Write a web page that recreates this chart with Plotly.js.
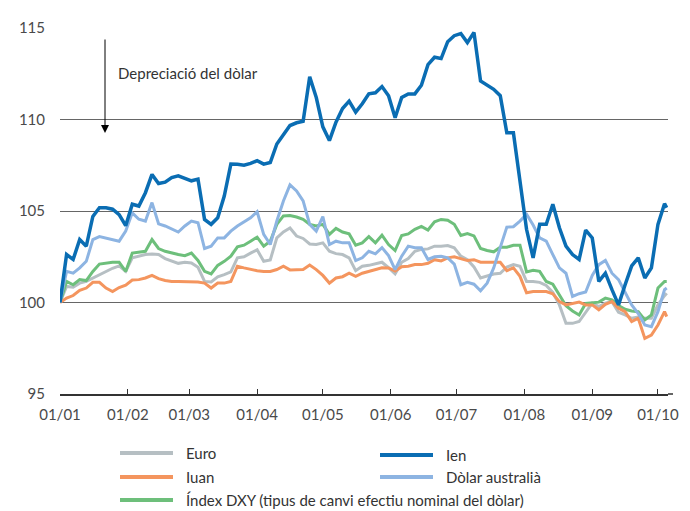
<!DOCTYPE html>
<html>
<head>
<meta charset="utf-8">
<script src="https://cdn.plot.ly/plotly-3.0.1.min.js"></script>
<style>html,body{margin:0;padding:0;background:#fff;}#chart{width:690px;height:511px;}</style>
</head>
<body>
<div id="chart"></div>
<script>
const dates = ['2025-01-01','2025-01-04','2025-01-07','2025-01-10','2025-01-13','2025-01-16','2025-01-19','2025-01-22','2025-01-25','2025-01-28','2025-01-31','2025-02-03','2025-02-06','2025-02-09','2025-02-12','2025-02-15','2025-02-18','2025-02-21','2025-02-24','2025-02-27','2025-03-02','2025-03-05','2025-03-08','2025-03-11','2025-03-14','2025-03-17','2025-03-20','2025-03-23','2025-03-26','2025-03-29','2025-04-01','2025-04-04','2025-04-07','2025-04-10','2025-04-13','2025-04-16','2025-04-19','2025-04-22','2025-04-25','2025-04-28','2025-05-01','2025-05-04','2025-05-07','2025-05-10','2025-05-13','2025-05-16','2025-05-19','2025-05-22','2025-05-25','2025-05-28','2025-05-31','2025-06-03','2025-06-06','2025-06-09','2025-06-12','2025-06-15','2025-06-18','2025-06-21','2025-06-24','2025-06-27','2025-06-30','2025-07-03','2025-07-06','2025-07-09','2025-07-12','2025-07-15','2025-07-18','2025-07-21','2025-07-24','2025-07-27','2025-07-30','2025-08-02','2025-08-05','2025-08-08','2025-08-11','2025-08-14','2025-08-17','2025-08-20','2025-08-23','2025-08-26','2025-08-29','2025-09-01','2025-09-04','2025-09-07','2025-09-10','2025-09-13','2025-09-16','2025-09-19','2025-09-22','2025-09-25','2025-09-28','2025-10-01','2025-10-04','2025-10-05'];

const ien = [100.0,102.62,102.35,103.44,103.08,104.7,105.18,105.18,105.1,104.8,104.2,105.37,105.27,106.0,107.0,106.5,
106.58,106.83,106.92,106.76,106.65,106.74,104.54,104.27,104.63,105.82,107.56,107.55,107.5,107.6,107.75,
107.56,107.65,108.66,109.18,109.67,109.82,109.9,112.33,111.2,109.6,108.85,109.85,110.6,111.0,110.4,110.86,
111.4,111.46,111.8,111.3,110.1,111.2,111.4,111.4,111.87,113.0,113.4,113.33,114.25,114.58,114.7,
114.2,114.76,112.1,111.9,111.65,111.3,109.27,109.27,106.65,104.0,102.44,104.27,104.27,105.37,104.08,103.08,
102.62,102.35,103.95,103.53,101.15,101.6,100.7,99.87,100.97,102.0,102.44,101.34,101.89,104.27,105.4,105.18];

const dolarAustralia = [100.0,101.7,101.6,101.89,102.25,103.44,103.6,103.53,103.44,103.35,103.9,104.9,104.55,104.45,105.46,104.3,
104.18,104.0,103.85,104.18,104.45,104.36,102.95,103.08,103.53,103.53,103.9,104.18,104.4,104.63,104.96,
103.72,103.17,104.45,105.55,106.43,106.1,105.55,104.27,103.9,104.7,103.17,103.35,103.26,103.26,102.29,102.44,
102.8,102.66,103.0,102.56,101.8,102.53,103.08,102.99,102.99,102.35,102.5,102.53,102.44,102.1,100.97,
101.1,101.0,100.64,101.06,101.89,102.99,104.12,104.14,104.45,104.82,104.23,103.53,103.35,102.62,101.89,101.6,
100.33,100.48,100.57,101.48,102.07,102.3,101.6,101.25,100.6,99.87,99.4,98.77,98.68,99.5,100.7,100.79];

const indexDXY = [100.0,101.15,100.97,101.25,101.2,101.7,102.1,102.16,102.2,102.2,101.7,102.7,102.73,102.8,103.44,102.95,
102.8,102.7,102.62,102.56,102.7,102.3,101.7,101.56,102.03,102.25,102.53,103.04,103.13,103.35,103.57,
103.08,103.35,104.27,104.73,104.75,104.67,104.54,104.27,104.18,104.27,103.72,104.05,103.85,103.75,103.13,103.26,
103.6,103.26,103.68,103.17,102.84,103.66,103.75,104.0,104.16,103.96,104.41,104.54,104.5,104.27,103.66,
103.77,103.64,102.95,102.84,102.77,103.02,103.02,103.13,103.13,101.67,101.76,101.7,101.15,101.0,100.42,99.82,
99.54,99.32,99.95,100.0,100.02,100.24,100.15,99.84,99.63,99.54,99.5,99.05,99.32,100.79,101.15,101.15];

const euro = [100.0,100.88,100.84,101.06,101.15,101.34,101.52,101.7,101.87,102.0,101.7,102.44,102.55,102.62,102.65,102.62,
102.4,102.25,102.14,102.2,102.16,101.92,101.15,101.12,101.4,101.52,101.67,102.44,102.5,102.7,102.88,
102.25,102.33,103.53,103.86,104.07,103.63,103.5,103.2,103.17,103.26,102.8,102.67,102.62,102.44,101.74,101.98,
102.03,102.1,102.2,101.9,101.56,102.2,102.4,102.8,102.9,102.93,103.08,103.08,103.11,102.99,102.53,
102.34,101.94,101.34,101.43,101.56,101.6,101.94,102.07,101.98,101.15,101.15,101.1,100.93,100.55,99.87,98.86,
98.86,98.96,99.45,99.96,99.78,99.96,100.05,99.47,99.32,99.14,99.2,99.14,99.14,99.87,100.37,100.51];

const iuan = [100.0,100.24,100.38,100.66,100.79,101.1,101.1,100.79,100.6,100.82,100.95,101.23,101.25,101.34,101.48,101.3,
101.2,101.15,101.15,101.15,101.15,101.12,101.06,100.79,101.06,101.06,101.15,101.98,101.89,101.8,101.74,
101.7,101.7,101.8,101.98,101.78,101.8,101.8,102.05,101.8,101.48,101.06,101.34,101.41,101.6,101.43,101.6,
101.7,101.8,101.9,101.89,101.72,101.96,101.98,102.07,102.07,102.14,102.34,102.27,102.44,102.5,102.4,
102.29,102.34,102.2,102.2,102.2,102.2,101.74,101.89,101.43,100.53,100.6,100.6,100.6,100.48,100.05,99.87,
99.96,100.02,99.87,99.87,99.6,99.9,100.05,99.69,99.5,98.96,99.14,98.04,98.22,98.77,99.5,99.23];

const tickDates = ['2025-01-01','2025-02-01','2025-03-01','2025-04-01','2025-05-01','2025-06-01','2025-07-01','2025-08-01','2025-09-01','2025-10-01'];
const tickLabels = ['01/01','01/02','01/03','01/04','01/05','01/06','01/07','01/08','01/09','01/10'];
const yTicks = [95,100,105,110,115];

const seriesNames = ['Euro','Ien','Iuan','Dòlar australià','Índex DXY (tipus de canvi efectiu nominal del dòlar)'];
const colors = {euro:'#b6bfc3', ien:'#0a6db3', iuan:'#f4955e', aud:'#8db4e2', dxy:'#6dbf7b'};

const mk = (y, name, color, w) => ({x: dates, y: y, name: name, type: 'scatter', mode: 'lines',
  line: {color: color, width: w}, showlegend: false, hoverinfo: 'skip'});

const traces = [
  mk(euro, seriesNames[0], colors.euro, 3),
  mk(indexDXY, seriesNames[4], colors.dxy, 3),
  mk(iuan, seriesNames[2], colors.iuan, 3),
  mk(dolarAustralia, seriesNames[3], colors.aud, 3),
  mk(ien, seriesNames[1], colors.ien, 3.5)
];

const FONT = 'Lato, "Open Sans", sans-serif';
// Manual legend (two columns)
const L = 60, W = 608, T = 28, H = 366;
const px = v => (v - L) / W;
const py = v => (T + H - v) / H;
const legendItems = [
  {name: seriesNames[0], color: colors.euro, x0: 120, y: 453},
  {name: seriesNames[1], color: colors.ien, x0: 380, y: 455},
  {name: seriesNames[2], color: colors.iuan, x0: 120, y: 477},
  {name: seriesNames[3], color: colors.aud, x0: 380, y: 477},
  {name: seriesNames[4], color: colors.dxy, x0: 120, y: 500}
];
const shapes = legendItems.map(it => ({type: 'line', xref: 'paper', yref: 'paper',
  x0: px(it.x0), x1: px(it.x0 + 53), y0: py(it.y), y1: py(it.y),
  line: {color: it.color, width: 4}}));
// x-axis baseline extends a little past the plot area
shapes.push({type: 'line', xref: 'paper', yref: 'paper', x0: 1, x1: px(673), y0: 0, y1: 0,
  line: {color: '#333', width: 1.5}});
const annotations = legendItems.map(it => ({xref: 'paper', yref: 'paper', x: px(it.x0 + 64), y: py(it.y),
  xanchor: 'left', yanchor: 'middle', text: it.name, showarrow: false,
  font: {family: FONT, size: 15, color: '#333'}}));
annotations.push({xref: 'paper', yref: 'paper', x: px(116), y: py(73), xanchor: 'left', yanchor: 'middle',
  text: 'Depreciació del dòlar', showarrow: false, font: {family: FONT, size: 15, color: '#333'}});
annotations.push({xref: 'paper', yref: 'paper', x: px(105), y: py(133), text: '', showarrow: true,
  ax: 0, ay: -95, arrowhead: 2, arrowsize: 1.6, arrowwidth: 1, arrowcolor: '#000', standoff: 0, startstandoff: 0});

const layout = {
  width: 690, height: 511,
  margin: {l: L, r: 690 - L - W, t: T, b: 511 - T - H},
  paper_bgcolor: '#fff', plot_bgcolor: '#fff',
  font: {family: FONT, size: 14, color: '#444'},
  showlegend: false,
  xaxis: {type: 'date', range: ['2025-01-01', '2025-10-05 14:00'],
    tickmode: 'array', tickvals: tickDates, ticktext: tickLabels,
    ticks: 'inside', ticklen: 5, tickwidth: 1, tickcolor: '#333',
    showline: true, linecolor: '#333', linewidth: 1.5, showgrid: false, zeroline: false,
    tickfont: {family: FONT, size: 15, color: '#4a4a4a'}, ticklabelstandoff: 6},
  yaxis: {range: [95, 115], tickmode: 'array', tickvals: yTicks,
    showgrid: true, gridcolor: '#666', gridwidth: 1, zeroline: false, showline: false,
    ticks: '', tickfont: {family: FONT, size: 15, color: '#4a4a4a'}, ticklabelstandoff: 14},
  shapes: shapes,
  annotations: annotations
};

Plotly.newPlot('chart', traces, layout, {displayModeBar: false, staticPlot: true});
</script>
</body>
</html>
